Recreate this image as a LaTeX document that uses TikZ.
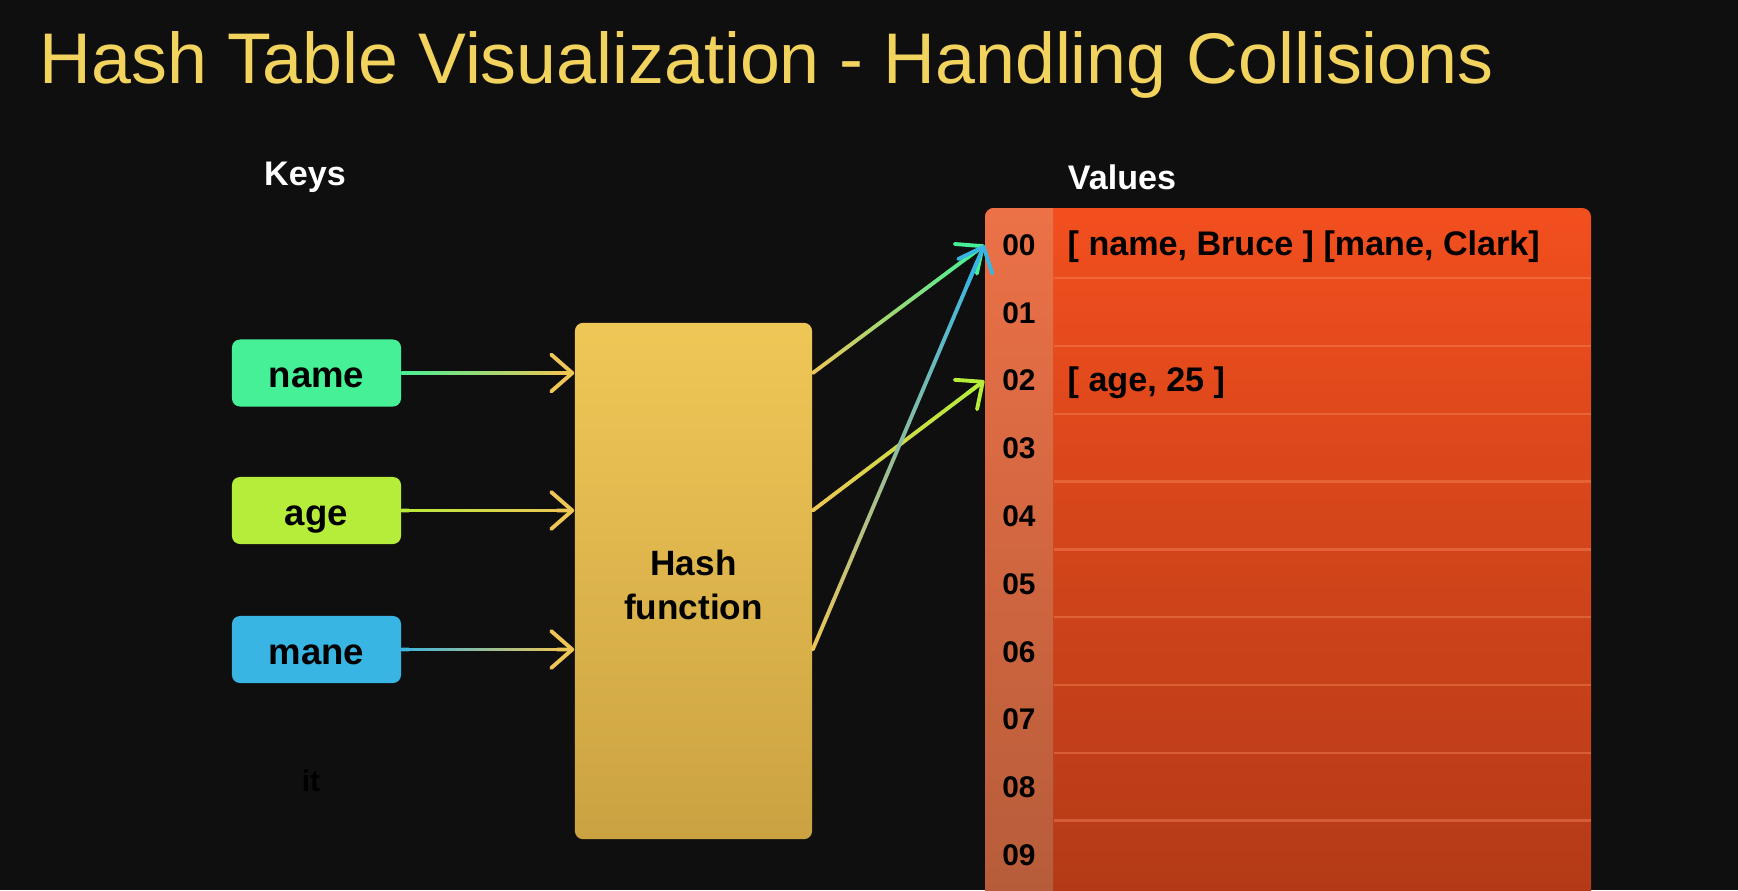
\documentclass[tikz,border=0pt]{standalone}
\usepackage{fontspec}
\setmainfont{Liberation Sans}
\usetikzlibrary{arrows.meta,calc}

\definecolor{bgdark}{HTML}{0F0F0F}
\definecolor{titleyellow}{HTML}{F2D35E}
\definecolor{keygreen}{HTML}{46F097}
\definecolor{keylime}{HTML}{B6EC3A}
\definecolor{keyblue}{HTML}{38B5E2}
\definecolor{hashtop}{HTML}{EFC757}
\definecolor{hashbot}{HTML}{CBA241}
\definecolor{tabtop}{HTML}{F24F1E}
\definecolor{tabbot}{HTML}{B33A17}
\definecolor{idxtop}{HTML}{EC7147}
\definecolor{idxbot}{HTML}{B65C3A}
\definecolor{tabsep}{HTML}{F7875A}
\definecolor{wireyellow}{HTML}{EEC655}

\tikzset{
    keybox/.style={rounded corners=2.3pt, minimum width=1.69cm, minimum height=0.67cm,
        inner sep=0pt, text height=1.6ex, text depth=0pt,
        font=\bfseries\fontsize{10.4}{12}\selectfont, text=black},
    header/.style={font=\bfseries\fontsize{9.7}{11}\selectfont, text=white},
    hashbox/.style={rounded corners=2.3pt, minimum width=2.37cm, minimum height=5.16cm,
        top color=hashtop, bottom color=hashbot, align=center,
        font=\bfseries\fontsize{10}{12.5}\selectfont, text=black},
    idxcell/.style={minimum width=0.68cm, minimum height=0.678cm, inner sep=0pt,
        font=\bfseries\fontsize{8.5}{10}\selectfont, text=black},
    entry/.style={anchor=base west, inner sep=0pt, font=\bfseries\fontsize{9.7}{11}\selectfont, text=black},
    sepline/.style={tabsep, line width=0.7pt, opacity=0.45},
    wire/.style={line width=1.1pt, line cap=round},
    tip/.style={-{Straight Barb[round, length=6pt, width=10.5pt]}},
}

% colour runs from #3 at (#1) to #4 at (#2)
\newcommand\gradwire[4]{%
    \foreach \i in {1,...,24}{%
        \pgfmathsetmacro\ta{0.96*(\i-1)/24}%
        \pgfmathsetmacro\tb{0.96*\i/24}%
        \pgfmathtruncatemacro\pc{100-100*(\i-0.5)/24}%
        \draw[wire, #3!\pc!#4] ($(#1)!\ta!(#2)$) -- ($(#1)!\tb!(#2)$);
    }%
    \draw[wire, tip, #4] ($(#1)!0.9!(#2)$) -- (#2);
}

\begin{document}
\begin{tikzpicture}[x=0.01cm, y=-0.01cm]
    \useasboundingbox (0,0) rectangle (1738,890);
    \clip (0,0) rectangle (1738,890);
    \fill[bgdark] (0,0) rectangle (1738,890);

    \node[anchor=base west, inner sep=0pt, text=titleyellow, font=\fontsize{20.4}{24}\selectfont]
        (title) at (39,83) {Hash Table Visualization - Handling Collisions};
    \node[header] (keys) at (305,177) {Keys};
    \node[header] (values) at (1122,177) {Values};

    % table of buckets
    \path[top color=tabtop, bottom color=tabbot, rounded corners=2.5pt] (985,208) rectangle (1591,900);
    \begin{scope}
        \clip[rounded corners=2.5pt] (985,208) rectangle (1591,900);
        \path[top color=idxtop, bottom color=idxbot] (985,208) rectangle (1053,900);
    \end{scope}
    \coordinate (tblne) at (1591,208);
    \foreach \r in {0,...,9}
        \node[idxcell] (idx\r) at (1019,{245+67.8*\r}) {0\r};
    \foreach \r in {1,...,9}
        \draw[sepline] (idx\r.north east) -- (idx\r.north east -| tblne);
    \node[entry] (val0) at (1067,255) {[ name, Bruce ] [mane, Clark]};
    \node[entry] (val2) at (1067,391) {[ age, 25 ]};

    % keys and hash
    \node[keybox, fill=keygreen] (kname) at (316.5,373) {name};
    \node[keybox, fill=keylime] (kage) at (316.5,510.5) {age};
    \node[keybox, fill=keyblue] (kmane) at (316.5,649.5) {mane};
    \node[font=\bfseries\fontsize{8.5}{10}\selectfont, text=black] (itnote) at (311,781) {it};
    \node[hashbox] (hash) at (693.5,581) {};
    \node[align=center, font=\bfseries\fontsize{10}{12.5}\selectfont, text=black]
        (hashtext) at (693.5,585) {Hash\\function};

    \coordinate (hin1) at (kname.east -| hash.west);
    \coordinate (hin2) at (kage.east -| hash.west);
    \coordinate (hin3) at (kmane.east -| hash.west);
    \coordinate (hout1) at (kname.east -| hash.east);
    \coordinate (hout2) at (kage.east -| hash.east);
    \coordinate (hout3) at (kmane.east -| hash.east);

    \gradwire{kname.east}{hin1}{keygreen}{wireyellow}
    \gradwire{kage.east}{hin2}{keylime}{wireyellow}
    \gradwire{kmane.east}{hin3}{keyblue}{wireyellow}
    \gradwire{hout1}{idx0.west}{wireyellow}{keygreen}
    \gradwire{hout2}{idx2.west}{wireyellow}{keylime}
    \gradwire{hout3}{idx0.west}{wireyellow}{keyblue}
\end{tikzpicture}
\end{document}
